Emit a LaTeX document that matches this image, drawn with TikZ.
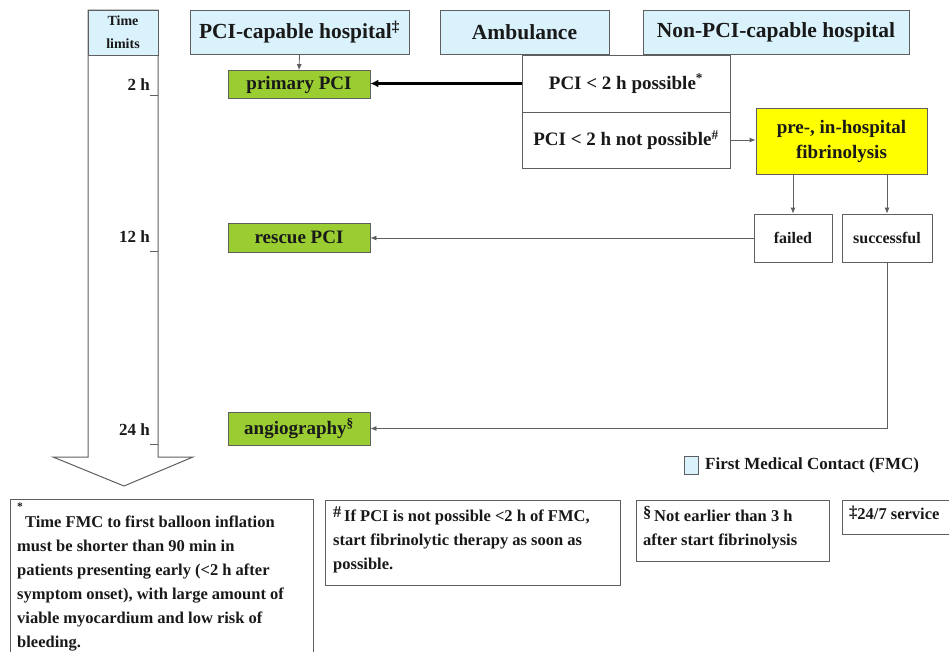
\documentclass[tikz,border=0pt]{standalone}
\usepackage{fontspec}
\setmainfont{Liberation Serif}
\usetikzlibrary{arrows.meta}
\definecolor{hdr}{RGB}{218,242,252}
\definecolor{grn}{RGB}{154,205,50}
\definecolor{ylw}{RGB}{255,255,0}
\definecolor{ln}{RGB}{95,95,95}
\definecolor{txt}{RGB}{25,25,25}
\tikzset{
  basebox/.style={draw=ln, line width=0.8pt, inner sep=0pt, align=center, text=txt},
  hdrbox/.style={basebox, fill=hdr, minimum height=44pt, font=\bfseries\fontsize{21.5}{26}\selectfont},
  stepbox/.style={basebox, font=\bfseries\fontsize{19}{25}\selectfont},
  greenbox/.style={stepbox, fill=grn},
  smallbox/.style={basebox, font=\bfseries\fontsize{16}{20}\selectfont},
  notebox/.style={basebox},
  notetext/.style={anchor=north west, inner sep=0pt, align=left, text=txt, font=\bfseries\fontsize{16.5}{24}\selectfont},
  timelbl/.style={anchor=east, inner sep=0pt, text=txt, font=\bfseries\fontsize{17}{20}\selectfont},
  arr/.style={draw=ln, line width=0.8pt, -{Latex[length=6pt,width=5pt]}},
  thickarr/.style={draw=black, line width=2.4pt, -{Latex[length=8pt,width=8pt]}}
}
\begin{document}
\begin{tikzpicture}[x=1pt,y=-1pt]
\path[use as bounding box, clip] (0,0) rectangle (949,651);
\fill[white] (0,0) rectangle (949,651);

% time arrow
\draw[draw=ln, line width=1pt, fill=white] (88,10) -- (158,10) -- (158,457) -- (193,457) -- (124,486) -- (53,457) -- (88,457) -- cycle;
\node[basebox, fill=hdr, minimum width=70pt, minimum height=45pt, font=\bfseries\fontsize{14}{23}\selectfont] (tl) at (123,32.5) {Time\\limits};
\coordinate (t2) at (158,95);
\coordinate (t12) at (158,251);
\coordinate (t24) at (158,444);
\draw[ln, line width=0.6pt] (t2) -- ++(-8,0);
\draw[ln, line width=0.6pt] (t12) -- ++(-8,0);
\draw[ln, line width=0.6pt] (t24) -- ++(-8,0);
\node[timelbl] (l2) at (150,85) {2 h};
\node[timelbl] (l12) at (150,237) {12 h};
\node[timelbl] (l24) at (150,430) {24 h};

% headers
\node[hdrbox, minimum width=219pt] (pcih) at (299.5,32) {PCI-capable hospital\textsuperscript{‡}};
\node[hdrbox, minimum width=169pt] (amb) at (524.5,32) {Ambulance};
\node[hdrbox, minimum width=266pt] (nonpci) at (776,32) {Non-PCI-capable hospital};

% main boxes
\node[greenbox, minimum width=142pt, minimum height=28pt] (ppci) at (299,84.5) {primary PCI};
\node[stepbox, minimum width=208pt, minimum height=57pt] (poss) at (626,83.5) {PCI < 2 h possible\textsuperscript{*}};
\node[stepbox, minimum width=208pt, minimum height=56pt] (notposs) at (626,140) {PCI < 2 h not possible\textsuperscript{\#}};
\node[stepbox, fill=ylw, minimum width=171pt, minimum height=66pt] (fib) at (841.5,141) {pre-, in-hospital\\fibrinolysis};
\node[smallbox, minimum width=78pt, minimum height=48pt] (failed) at (793,238) {failed};
\node[smallbox, minimum width=90pt, minimum height=48pt] (succ) at (887,238) {successful};
\node[greenbox, minimum width=142pt, minimum height=29pt] (rpci) at (299,237.5) {rescue PCI};
\node[greenbox, minimum width=142pt, minimum height=33pt] (angio) at (299,428.5) {angiography\textsuperscript{§}};

% connectors
\draw[arr] (pcih.south) -- (ppci.north);
\draw[thickarr] (poss.west) -- (ppci.east |- poss.west);
\draw[arr] (notposs.east) -- (fib.west |- notposs.east);
\draw[arr] (fib.south -| failed.north) -- (failed.north);
\draw[arr] (fib.south -| succ.north) -- (succ.north);
\draw[arr] (failed.west) -- (rpci.east |- failed.west);
\draw[arr] (succ.south) |- (angio.east);

% legend
\node[basebox, fill=hdr, minimum width=14pt, minimum height=18pt] (leg) at (691,465) {};
\node[anchor=west, inner sep=0pt, text=txt, font=\bfseries\fontsize{17}{20}\selectfont] (legt) at (705,465) {First Medical Contact (FMC)};

% footnotes
\node[notebox, anchor=north west, minimum width=303pt, minimum height=170pt] (fn1) at (10,499) {};
\node[notetext] (fn1t) at (17,503) {\textsuperscript{*}\\[-14pt]\hspace{8pt}Time FMC to first balloon inflation\\must be shorter than 90 min in\\patients presenting early (<2 h after\\symptom onset), with large amount of\\viable myocardium and low risk of\\bleeding.};
\node[notebox, anchor=north west, minimum width=295pt, minimum height=85pt] (fn2) at (325,500) {};
\node[notetext] (fn2t) at (333,506) {\raisebox{4pt}{\#}\,If PCI is not possible <2 h of FMC,\\start fibrinolytic therapy as soon as\\possible.};
\node[notebox, anchor=north west, minimum width=193pt, minimum height=61pt] (fn3) at (636,500) {};
\node[notetext] (fn3t) at (643,506) {\raisebox{4pt}{§}\,Not earlier than 3 h\\after start fibrinolysis};
\node[notebox, anchor=north west, minimum width=130pt, minimum height=34pt] (fn4) at (842,500) {};
\node[notetext] (fn4t) at (849,506) {\raisebox{2pt}{‡}24/7 service};
\end{tikzpicture}
\end{document}
